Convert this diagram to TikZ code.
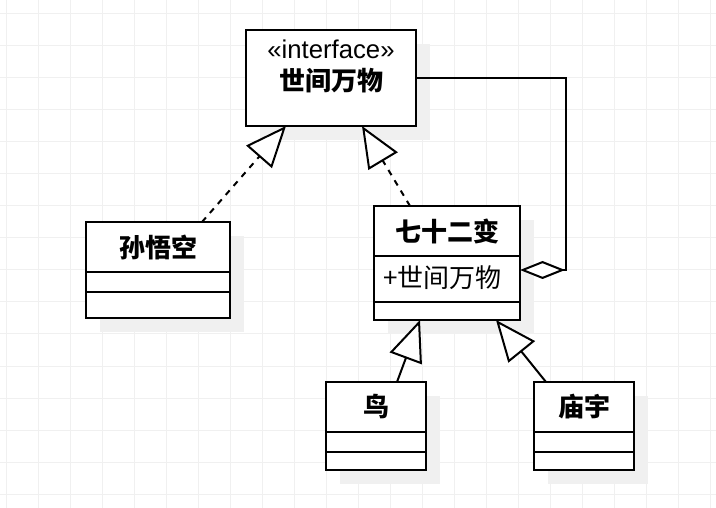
\documentclass[tikz,border=0pt]{standalone}
\usepackage{fontspec}
\setmainfont{Liberation Sans}
\newfontfamily\cjk{Noto Sans CJK SC}
\usetikzlibrary{arrows.meta,shadows}
\definecolor{gridc}{RGB}{240,240,240}
\definecolor{shadowc}{RGB}{240,240,240}
\begin{document}
\begin{tikzpicture}[x=1pt,y=-1pt,
  every node/.style={inner sep=0pt, outer sep=0pt},
  umlbox/.style={draw, line width=2pt, fill=white, anchor=north west,
    general shadow={fill=shadowc, shadow xshift=14pt, shadow yshift=-14pt}},
  divider/.style={line width=2pt},
  lbl/.style={font=\fontsize{26}{30}\selectfont\cjk},
  lblb/.style={font=\fontsize{26}{30}\selectfont\cjk\bfseries},
  realize/.style={line width=2pt, dash pattern=on 6pt off 6pt,
    -{Triangle[length=41pt, width=34pt, fill=white]}},
  inherit/.style={line width=2pt, -{Triangle[length=41pt, width=34pt, fill=white]}},
  aggr/.style={line width=2pt, -{Diamond[length=45pt, width=18pt, fill=white]}}]
\useasboundingbox (0,0) rectangle (716,508);
\fill[white] (0,0) rectangle (716,508);
\foreach \x in {6,38,...,710} \draw[gridc, line width=1pt] (\x,0) -- (\x,508);
\foreach \y in {14,46,...,494} \draw[gridc, line width=1pt] (0,\y) -- (716,\y);

% boxes
\node[umlbox, minimum width=170pt, minimum height=96pt] (iface) at (246,30) {};
\node[umlbox, minimum width=144pt, minimum height=96pt] (swk) at (86,222) {};
\node[umlbox, minimum width=146pt, minimum height=114pt] (qsb) at (374,206) {};
\node[umlbox, minimum width=100pt, minimum height=88pt] (niao) at (326,382) {};
\node[umlbox, minimum width=100pt, minimum height=88pt] (miao) at (534,382) {};

% dividers
\draw[divider] (86,272) -- (230,272);
\draw[divider] (86,292) -- (230,292);
\draw[divider] (374,256) -- (520,256);
\draw[divider] (374,302) -- (520,302);
\draw[divider] (326,432) -- (426,432);
\draw[divider] (326,452) -- (426,452);
\draw[divider] (534,432) -- (634,432);
\draw[divider] (534,452) -- (634,452);

% texts
\node[anchor=base, font=\fontsize{25.7}{30}\selectfont] (ifst) at (331,59) {«interface»};
\node[lblb] (ifname) at (331,81) {世间万物};
\node[lblb] (swkname) at (158,247) {孙悟空};
\node[lblb] (qsbname) at (447,231) {七十二变};
\node[lbl, anchor=west] (qsbattr) at (383,278) {+世间万物};
\node[lblb] (niaoname) at (376,407) {鸟};
\node[lblb] (miaoname) at (584,407) {庙宇};

% connector points
\coordinate (swkT) at (202,222);
\coordinate (ifB1) at (286,126);
\coordinate (qsbT) at (410,206);
\coordinate (ifB2) at (362,126);
\coordinate (niaoT) at (397,382);
\coordinate (qsbB1) at (420,320);
\coordinate (miaoT) at (546,382);
\coordinate (qsbB2) at (496,320);
\coordinate (ifR) at (416,78);
\coordinate (bendA) at (566,78);
\coordinate (bendB) at (566,270);
\coordinate (qsbR) at (520,270);

\draw[realize] (swkT) -- (ifB1);
\draw[realize] (qsbT) -- (ifB2);
\draw[inherit] (niaoT) -- (qsbB1);
\draw[inherit] (miaoT) -- (qsbB2);
\draw[aggr] (ifR) -- (bendA) -- (bendB) -- (qsbR);
\end{tikzpicture}
\end{document}
